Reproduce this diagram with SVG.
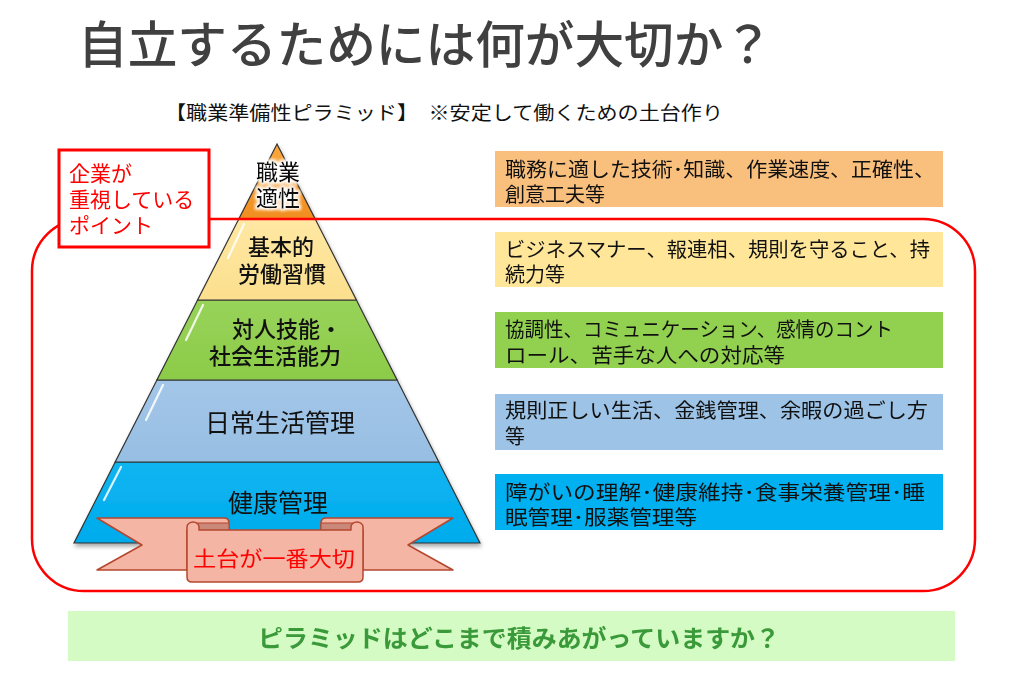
<svg xmlns="http://www.w3.org/2000/svg" width="1024" height="678" viewBox="0 0 1024 678">
<defs>
<style>
text{font-family:"Noto Sans CJK JP","Noto Sans CJK SC",sans-serif;}
.lvl{stroke:#333;stroke-width:1.2;}
.hl{fill:none;stroke:#fff;stroke-width:2.2;stroke-linecap:round;opacity:0.85;}
.pl{fill:#111;font-size:22px;font-weight:500;}
.pn{fill:#111;font-size:25px;}
.bx{font-size:20px;fill:#111;}
.red{fill:#FF0000;}
.rib{fill:#F4B5A5;stroke:#B5472E;stroke-width:1.5;stroke-linejoin:round;}
</style>
<linearGradient id="gO" x1="0" y1="0" x2="0" y2="1"><stop offset="0" stop-color="#FAA73E"/><stop offset="1" stop-color="#F18D1F"/></linearGradient>
<linearGradient id="gY" x1="0" y1="0" x2="0" y2="1"><stop offset="0" stop-color="#FFE8A3"/><stop offset="1" stop-color="#FBDF8E"/></linearGradient>
<linearGradient id="gG" x1="0" y1="0" x2="0" y2="1"><stop offset="0" stop-color="#98D35A"/><stop offset="1" stop-color="#8CCB48"/></linearGradient>
<linearGradient id="gB" x1="0" y1="0" x2="0" y2="1"><stop offset="0" stop-color="#A3C6E8"/><stop offset="1" stop-color="#97BFE3"/></linearGradient>
<linearGradient id="gC" x1="0" y1="0" x2="0" y2="1"><stop offset="0" stop-color="#0DB5F1"/><stop offset="1" stop-color="#00ABEC"/></linearGradient>
<filter id="sh" x="-10%" y="-10%" width="120%" height="130%"><feGaussianBlur in="SourceAlpha" stdDeviation="2"/><feOffset dx="1" dy="3"/><feComponentTransfer><feFuncA type="linear" slope="0.35"/></feComponentTransfer><feMerge><feMergeNode/><feMergeNode in="SourceGraphic"/></feMerge></filter>
<filter id="glow" x="-20%" y="-30%" width="140%" height="160%"><feMorphology in="SourceAlpha" operator="dilate" radius="1.5" result="d"/><feGaussianBlur in="d" stdDeviation="1.5" result="b"/><feFlood flood-color="#fff"/><feComposite in2="b" operator="in"/><feMerge><feMergeNode/><feMergeNode in="SourceGraphic"/></feMerge></filter>
</defs>
<rect width="1024" height="678" fill="#fff"/>

<g id="title">
<text x="78" y="63" font-size="50" font-weight="500" fill="#404040" textLength="695" lengthAdjust="spacingAndGlyphs">自立するためには何が大切か？</text>
<text x="165" y="120" font-size="19" fill="#111" textLength="558" lengthAdjust="spacingAndGlyphs">【職業準備性ピラミッド】　※安定して働くための土台作り</text>
</g>

<g id="pyramid" filter="url(#sh)">
<g id="level-cyan">
<polygon class="lvl" fill="url(#gC)" points="115.2,462 438.8,462 480,543 74,543"/>
<line class="hl" x1="121" y1="467" x2="104" y2="500"/>
</g>
<g id="level-blue">
<polygon class="lvl" fill="url(#gB)" points="156.9,380 397.1,380 438.8,462 115.2,462"/>
<line class="hl" x1="163" y1="385" x2="146" y2="420"/>
</g>
<g id="level-green">
<polygon class="lvl" fill="url(#gG)" points="197.6,300 356.4,300 397.1,380 156.9,380"/>
<line class="hl" x1="203" y1="305" x2="186" y2="340"/>
</g>
<g id="level-yellow">
<polygon class="lvl" fill="url(#gY)" points="238.8,219 315.2,219 356.4,300 197.6,300"/>
<line class="hl" x1="244" y1="224" x2="228" y2="258"/>
</g>
<g id="level-orange">
<polygon class="lvl" fill="url(#gO)" points="277,144 315.2,219 238.8,219"/>
</g>
</g>

<g id="pyramid-labels">
<text class="pl" filter="url(#glow)" text-anchor="middle" font-size="23"><tspan x="278" y="180">職業</tspan><tspan x="278" y="206">適性</tspan></text>
<text class="pl" text-anchor="middle"><tspan x="281" y="255">基本的</tspan><tspan x="282" y="282">労働習慣</tspan></text>
<text class="pl"><tspan x="232" y="337">対人技能・</tspan><tspan x="209" y="364">社会生活能力</tspan></text>
<text class="pn" x="280" y="432" text-anchor="middle">日常生活管理</text>
<text class="pn" x="278" y="512" text-anchor="middle">健康管理</text>
</g>

<g id="banner">
<path class="rib" d="M97,518 H224 Q229,518 229,523 V530 H187 V570 H97 L142,545 Z"/>
<path class="rib" d="M453,518 H326 Q321,518 321,523 V530 H363 V570 H453 L408,545 Z"/>
<path d="M192,523 H229 V531 H192 Z" fill="#C98878" stroke="#B5472E" stroke-width="1"/>
<path d="M321,523 H358 V531 H321 Z" fill="#C98878" stroke="#B5472E" stroke-width="1"/>
<path class="rib" d="M187,527 A6,5 0 0 1 199,527 V530 H351 V527 A6,5 0 0 1 363,527 V577 Q363,582 358,582 H192 Q187,582 187,577 Z"/>
<text x="193" y="566" font-size="21" fill="#FF0000" textLength="162" lengthAdjust="spacingAndGlyphs">土台が一番大切</text>
</g>

<g id="company-focus">
<rect x="32" y="219" width="943" height="372" rx="52" ry="52" fill="none" stroke="#FF0000" stroke-width="2.5"/>
<rect x="59" y="150" width="150" height="97" fill="#fff" stroke="#FF0000" stroke-width="3"/>
<text class="red" font-size="21"><tspan x="69" y="181">企業が</tspan><tspan x="69" y="207">重視している</tspan><tspan x="69" y="233">ポイント</tspan></text>
</g>

<g id="box1">
<rect x="495" y="151" width="448" height="56" fill="#F9BF7D"/>
<text class="bx"><tspan x="505" y="177" textLength="430" lengthAdjust="spacingAndGlyphs">職務に適した技術･知識、作業速度、正確性、</tspan><tspan x="505" y="202">創意工夫等</tspan></text>
</g>
<g id="box2">
<rect x="495" y="232" width="448" height="55" fill="#FFE699"/>
<text class="bx"><tspan x="505" y="257" textLength="425" lengthAdjust="spacingAndGlyphs">ビジネスマナー、報連相、規則を守ること、持</tspan><tspan x="505" y="282">続力等</tspan></text>
</g>
<g id="box3">
<rect x="495" y="312" width="448" height="56" fill="#92D050"/>
<text class="bx"><tspan x="505" y="337" textLength="388" lengthAdjust="spacingAndGlyphs">協調性、コミュニケーション、感情のコント</tspan><tspan x="505" y="363" textLength="280" lengthAdjust="spacingAndGlyphs">ロール、苦手な人への対応等</tspan></text>
</g>
<g id="box4">
<rect x="495" y="394" width="448" height="56" fill="#9DC3E6"/>
<text class="bx"><tspan x="505" y="418" textLength="423" lengthAdjust="spacingAndGlyphs">規則正しい生活、金銭管理、余暇の過ごし方</tspan><tspan x="505" y="444">等</tspan></text>
</g>
<g id="box5">
<rect x="495" y="474" width="448" height="56" fill="#00B0F0"/>
<text class="bx"><tspan x="505" y="500" textLength="420" lengthAdjust="spacingAndGlyphs">障がいの理解･健康維持･食事栄養管理･睡</tspan><tspan x="505" y="525" textLength="192" lengthAdjust="spacingAndGlyphs">眠管理･服薬管理等</tspan></text>
</g>

<g id="question">
<rect x="68" y="611" width="887" height="50" fill="#D3FBC3"/>
<text x="258" y="647" font-size="24" font-weight="bold" fill="#3A9A3A" textLength="522" lengthAdjust="spacingAndGlyphs">ピラミッドはどこまで積みあがっていますか？</text>
</g>
</svg>
